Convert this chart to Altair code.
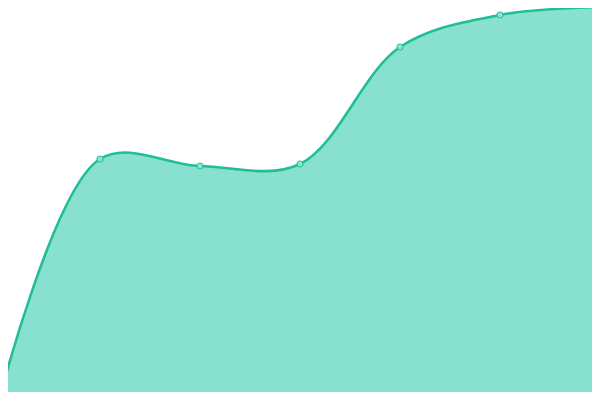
import altair as alt
import pandas as pd

xs = [0, 1, 2, 3, 4, 5, 6]
values = [3, 241, 234, 236, 353, 385, 393]

df = pd.DataFrame({"x": xs, "v": values})

xscale = alt.Scale(domain=[0.08, 5.92], nice=False, zero=False)
yscale = alt.Scale(domain=[8, 392], nice=False, zero=False)

base = alt.Chart(df).encode(
    x=alt.X("x:Q", scale=xscale, axis=None),
    y=alt.Y("v:Q", scale=yscale, axis=None),
)

area = base.mark_area(
    interpolate="catmull-rom", color="#88e0cf", opacity=1, clip=True,
    line={"color": "#1fbd98", "strokeWidth": 2.6},
)
pts = base.mark_point(
    shape="circle", size=36, filled=True, fill="#8fe3d2",
    stroke="#2fc29f", strokeWidth=1.2, opacity=1, clip=True,
)

chart = (area + pts).properties(width=584, height=384, padding=0).configure_view(stroke=None)
chart.save("out.html", embed_options={"renderer": "svg", "actions": False})
